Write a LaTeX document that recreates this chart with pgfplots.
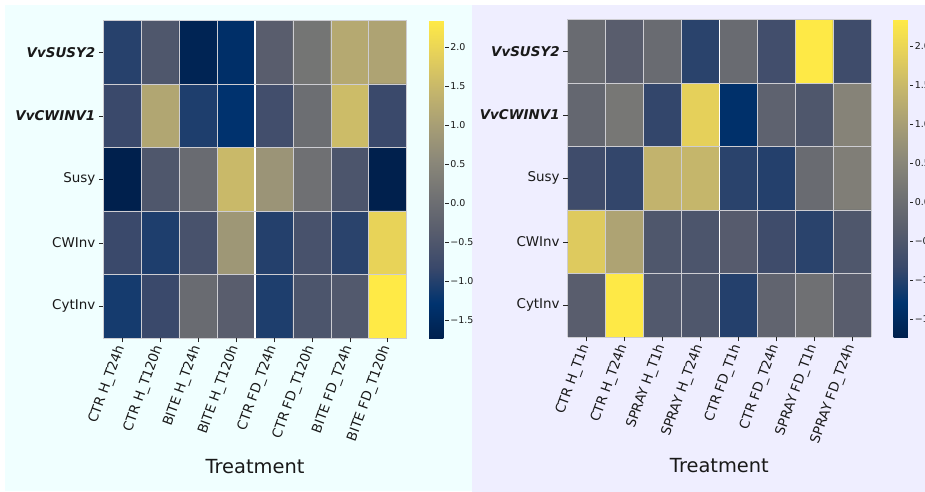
\documentclass[border=0pt]{standalone}
\usepackage{pgfplots}
\usepackage{pgfplotstable}
\pgfplotsset{compat=1.18}
\usepackage{fontspec}
\setmainfont{DejaVu Sans}
\definecolor{leftbg}{RGB}{240,255,255}
\definecolor{rightbg}{RGB}{239,238,255}
\definecolor{cellline}{RGB}{205,205,210}

\pgfplotstableread{
x y c
0 0 -0.98
1 0 -0.50
2 0 -1.65
3 0 -1.38
4 0 -0.35
5 0 0.15
6 0 1.20
7 0 1.10
0 1 -0.82
1 1 1.15
2 1 -1.05
3 1 -1.30
4 1 -0.70
5 1 0.00
6 1 1.55
7 1 -0.82
0 2 -1.74
1 2 -0.50
2 2 -0.05
3 2 1.50
4 2 0.80
5 2 0.05
6 2 -0.55
7 2 -1.74
0 3 -0.82
1 3 -1.05
2 3 -0.60
3 3 0.85
4 3 -1.00
5 3 -0.60
6 3 -0.95
7 3 1.95
0 4 -1.12
1 4 -0.82
2 4 -0.05
3 4 -0.35
4 4 -1.05
5 4 -0.55
6 4 -0.45
7 4 2.34
}\lefttable

\pgfplotstableread{
x y c
0 0 -0.05
1 0 -0.35
2 0 -0.05
3 0 -0.95
4 0 -0.05
5 0 -0.70
6 0 2.33
7 0 -0.75
0 1 -0.15
1 1 0.20
2 1 -0.88
3 1 1.90
4 1 -1.35
5 1 -0.25
6 1 -0.50
7 1 0.45
0 2 -0.75
1 2 -0.88
2 2 1.40
3 2 1.45
4 2 -0.95
5 2 -1.00
6 2 -0.05
7 2 0.35
0 3 1.80
1 3 1.10
2 3 -0.50
3 3 -0.55
4 3 -0.40
5 3 -0.75
6 3 -0.95
7 3 -0.50
0 4 -0.35
1 4 2.33
2 4 -0.45
3 4 -0.50
4 4 -1.00
5 4 -0.20
6 4 0.05
7 4 -0.35
}\righttable

\pgfplotsset{
  colormap={cividis}{rgb255=(0,32,77) rgb255=(0,51,111) rgb255=(57,72,107) rgb255=(87,92,109) rgb255=(112,113,115) rgb255=(138,135,121) rgb255=(166,157,117) rgb255=(196,181,108) rgb255=(228,207,91) rgb255=(255,234,70)},
  hm/.style={
    anchor=south west,
    scale only axis,
    width=303.4bp, height=317.3bp,
    enlargelimits=false,
    xmin=-0.5, xmax=7.5, ymin=-0.5, ymax=4.5,
    y dir=reverse,
    axis line style={draw=none},
    axis on top,
    xtick={0,...,7}, ytick={0,...,4},
    minor xtick={-0.5,0.5,1.5,2.5,4.5,5.5,6.5,7.5},
    minor ytick={-0.5,0.5,1.5,2.5,3.5,4.5},
    xminorgrids=true, yminorgrids=true,
    minor grid style={color=cellline, line width=0.6bp},
    minor tick length=0pt,
    major tick length=4.5bp,
    tick align=outside,
    xtick pos=bottom, ytick pos=left,
    tick style={color=black!85, line width=0.6bp},
    point meta min=-1.74, point meta max=2.34,
    yticklabels={\textbf{\textit{VvSUSY2}},\textbf{\textit{VvCWINV1}},Susy,CWInv,CytInv},
    yticklabel style={font=\fontsize{13.5}{16}\selectfont, text=black!90},
    xticklabel style={font=\fontsize{13.5}{16}\selectfont, text=black!90, rotate=70, anchor=east},
    xlabel={Treatment},
    xlabel style={at={(axis description cs:0.5,0)}, anchor=center, yshift=-128.7bp, font=\fontsize{19.5}{22}\selectfont, text=black!90},
    colorbar,
    colorbar style={
      at={(parent axis.north east)}, anchor=north west, xshift=14bp,
      scale only axis, width=16bp, height=318bp,
      axis line style={draw=none},
      ytick={-1.5,-1,-0.5,0,0.5,1,1.5,2},
      yticklabels={−1.5,−1.0,−0.5,0.0,0.5,1.0,1.5,2.0},
      yticklabel style={font=\fontsize{9.5}{11}\selectfont, text=black!90, inner sep=1.5bp},
      ytick pos=right, tick align=outside, major tick length=3.5bp,
      tick style={color=black!85, line width=0.6bp},
    },
  },
}

\begin{document}
\begin{tikzpicture}[x=1bp,y=1bp]
\useasboundingbox (0,0) rectangle (925,492);
\fill[leftbg] (5,0.5) rectangle (472,487);
\fill[rightbg] (472,0) rectangle (925,487);

\begin{axis}[hm, at={(103.3bp,154bp)},
  xticklabels={CTR H\_T24h,CTR H\_T120h,BITE H\_T24h,BITE H\_T120h,CTR FD\_T24h,CTR FD\_T120h,BITE FD\_T24h,BITE FD\_T120h}]
\addplot[matrix plot*, mesh/cols=8, point meta=explicit] table[x=x, y=y, meta=c] {\lefttable};
\addplot[white, line width=1.8bp, forget plot] coordinates {(3.5,-0.5) (3.5,4.5)};
\end{axis}

\begin{axis}[hm, at={(567.7bp,155bp)},
  xticklabels={CTR H\_T1h,CTR H\_T24h,SPRAY H\_T1h,SPRAY H\_T24h,CTR FD\_T1h,CTR FD\_T24h,SPRAY FD\_T1h,SPRAY FD\_T24h}]
\addplot[matrix plot*, mesh/cols=8, point meta=explicit] table[x=x, y=y, meta=c] {\righttable};
\addplot[white, line width=1.8bp, forget plot] coordinates {(3.5,-0.5) (3.5,4.5)};
\end{axis}
\end{tikzpicture}
\end{document}
